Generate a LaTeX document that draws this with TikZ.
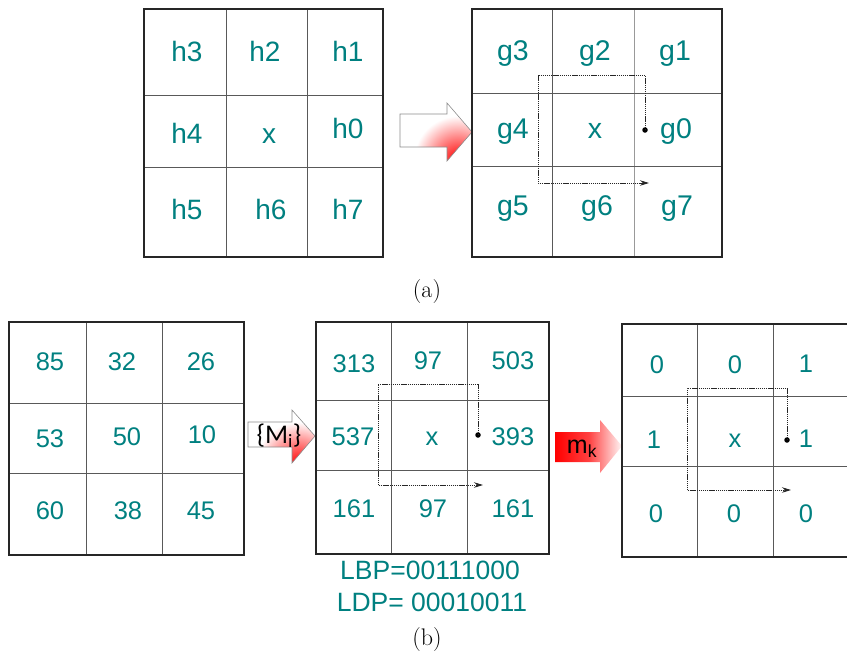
\documentclass[tikz,border=0pt]{standalone}
\usepackage{fontspec}
\newfontfamily\arial{Liberation Sans}
\newfontfamily\calib{Carlito}
\usetikzlibrary{arrows.meta}
\definecolor{tealc}{RGB}{0,128,128}
\tikzset{
  lbl/.style={text=tealc, anchor=base, inner sep=0pt, font=\arial\fontsize{#1}{#1}\selectfont},
  lbl/.default=25.5,
  outerbox/.style={draw=black!85, line width=1.5pt},
  innerline/.style={draw=black!65, line width=0.8pt},
  scanpath/.style={draw=black!85, line width=0.9pt, dash pattern=on 1.2pt off 0.7pt, -{Stealth[length=9pt,width=5.5pt]}},
  dotc/.style={circle, fill=black, inner sep=0pt, minimum size=5.5pt},
  arrowline/.style={draw=black!45, line width=0.6pt},
  caption/.style={anchor=base, inner sep=0pt, font=\fontsize{24}{28}\selectfont},
  arrowtext/.style={anchor=base, inner sep=0pt, text=black}
}
\begin{document}
\begin{tikzpicture}[x=1pt,y=-1pt]
\useasboundingbox (0,0) rectangle (847,659);

% ---------- grid h ----------
\draw[innerline] (226,9) -- (226,257) (307,9) -- (307,257);
\draw[innerline] (144,95) -- (383,95) (144,167) -- (383,167);
\draw[outerbox] (144,9) rectangle (383,257);
\node[lbl=28] (h3) at (187,61) {h3};
\node[lbl=28] (h2) at (265,61) {h2};
\node[lbl=28] (h1) at (348,61) {h1};
\node[lbl=28] (h4) at (187,143) {h4};
\node[lbl=28] (hx) at (269,143) {x};
\node[lbl=28] (h0) at (348,138) {h0};
\node[lbl=28] (h5) at (187,219) {h5};
\node[lbl=28] (h6) at (271,219) {h6};
\node[lbl=28] (h7) at (348,219) {h7};

% ---------- arrow 1 ----------
\def\arrowA{(400,114) -- (447,114) -- (447,103) -- (472,132) -- (447,161) -- (447,147) -- (400,147) -- cycle}
\fill[white] \arrowA;
\begin{scope}
  \clip \arrowA;
  \shade[inner color=red, outer color=white] (458,160) circle (44);
\end{scope}
\draw[arrowline] \arrowA;

% ---------- grid g ----------
\draw[innerline] (552,9) -- (552,257);
\draw[innerline, draw=black!40] (634,9) -- (634,257);
\draw[innerline] (472,93) -- (722,93) (472,166) -- (722,166);
\draw[outerbox] (472,9) rectangle (722,257);
\node[lbl=28.5] (g3) at (513,60) {g3};
\node[lbl=28.5] (g2) at (595,60) {g2};
\node[lbl=28.5] (g1) at (675,60) {g1};
\node[lbl=28.5] (g4) at (513,138) {g4};
\node[lbl=28.5] (gx) at (595,138) {x};
\node[lbl=28.5] (g0) at (676,138) {g0};
\node[lbl=28.5] (g5) at (513,215) {g5};
\node[lbl=28.5] (g6) at (597,215) {g6};
\node[lbl=28.5] (g7) at (677,215) {g7};
\node[dotc] (gd) at (645,130) {};
\coordinate (ge) at (649,183);
\draw[scanpath] (gd.center) -- (645,75) -- (538,75) -- (538,183) -- (ge);

\node[caption] (capa) at (427,297) {(a)};

% ---------- grid 3 (values) ----------
\draw[innerline] (86,322) -- (86,555) (162,322) -- (162,555);
\draw[innerline] (9,403) -- (244,403) (9,473) -- (244,473);
\draw[outerbox] (9,322) rectangle (244,555);
\node[lbl] (v85) at (50,370) {85};
\node[lbl] (v32) at (122,370) {32};
\node[lbl] (v26) at (201,370) {26};
\node[lbl] (v53) at (50,447) {53};
\node[lbl] (v50) at (127,445) {50};
\node[lbl] (v10) at (202,443) {10};
\node[lbl] (v60) at (50,519) {60};
\node[lbl] (v38) at (128,519) {38};
\node[lbl] (v45) at (201,519) {45};

% ---------- arrow 2 {Mi} ----------
\def\arrowB{(248,422) -- (292,422) -- (292,410) -- (315,436) -- (292,463) -- (292,447) -- (248,447) -- cycle}
\fill[white] \arrowB;
\begin{scope}
  \clip \arrowB;
  \shade[inner color=red, outer color=white] (298,464) circle (42);
\end{scope}
\draw[arrowline] \arrowB;
\node[arrowtext, font=\calib\fontsize{27}{28}\selectfont] (mi) at (279,443) {\{M\textsubscript{i}\}};

% ---------- grid 4 ----------
\draw[innerline] (391,322) -- (391,554) (467,322) -- (467,554);
\draw[innerline] (316,400) -- (549,400) (316,470) -- (549,470);
\draw[outerbox] (316,322) rectangle (549,554);
\node[lbl] (w313) at (354,372) {313};
\node[lbl] (w97a) at (428,369) {97};
\node[lbl] (w503) at (513,369) {503};
\node[lbl] (w537) at (353,445) {537};
\node[lbl] (wx) at (432,445) {x};
\node[lbl] (w393) at (513,445) {393};
\node[lbl] (w161a) at (354,517) {161};
\node[lbl] (w97b) at (433,517) {97};
\node[lbl] (w161b) at (513,517) {161};
\node[dotc] (wd) at (478,435) {};
\coordinate (we) at (483,485);
\draw[scanpath] (wd.center) -- (478,384) -- (378,384) -- (378,485) -- (we);

\node[lbl=26.5] (lbp) at (430,579) {LBP=00111000};
\node[lbl=26.5] (ldp) at (432,611) {LDP= 00010011};

% ---------- arrow 3 mk ----------
\def\arrowC{(555,432) -- (600,432) -- (600,420) -- (622,446) -- (600,473) -- (600,462) -- (555,462) -- cycle}
\shade[left color=red, right color=red!3, middle color=red!75] \arrowC;
\node[arrowtext, font=\arial\fontsize{25}{26}\selectfont] (mk) at (582,453) {m\textsubscript{k}};

% ---------- grid 5 ----------
\draw[innerline] (697,324) -- (697,557) (773,324) -- (773,557);
\draw[innerline] (622,396) -- (847,396) (622,466) -- (847,466);
\draw[outerbox] (847,324) -- (622,324) -- (622,557) -- (847,557);
\node[lbl] (b1) at (657,373) {0};
\node[lbl] (b2) at (735,373) {0};
\node[lbl] (b3) at (806,372) {1};
\node[lbl] (b4) at (654,448) {1};
\node[lbl] (bx) at (735,447) {x};
\node[lbl] (b5) at (806,447) {1};
\node[lbl] (b6) at (656,522) {0};
\node[lbl] (b7) at (734,522) {0};
\node[lbl] (b8) at (806,522) {0};
\node[dotc] (bd) at (787,440) {};
\coordinate (be) at (791,490);
\draw[scanpath] (bd.center) -- (787,388) -- (687,388) -- (687,490) -- (be);

\node[caption] (capb) at (427,645) {(b)};
\end{tikzpicture}
\end{document}
